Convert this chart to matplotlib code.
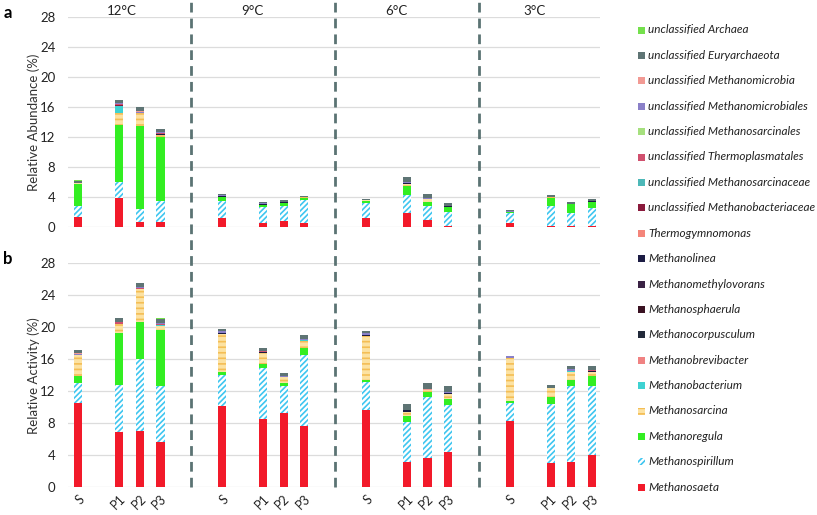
import matplotlib.pyplot as plt
from matplotlib.lines import Line2D
from matplotlib.patches import Rectangle
from matplotlib import transforms

plt.rcParams['font.family'] = ['Lato', 'DejaVu Sans']
plt.rcParams['hatch.linewidth'] = 1.2

temps = ["12°C", "9°C", "6°C", "3°C"]
samples = ["S", "P1", "P2", "P3"]

# legend order (top of stack first)
taxa = ["unclassified Archaea", "unclassified Euryarchaeota", "unclassified Methanomicrobia",
        "unclassified Methanomicrobiales", "unclassified Methanosarcinales",
        "unclassified Thermoplasmatales", "unclassified Methanosarcinaceae",
        "unclassified Methanobacteriaceae", "Thermogymnomonas", "Methanolinea",
        "Methanomethylovorans", "Methanosphaerula", "Methanocorpusculum",
        "Methanobrevibacter", "Methanobacterium", "Methanosarcina", "Methanoregula",
        "Methanospirillum", "Methanosaeta"]

# panel a: relative abundance (%), bars in order 12S,P1,P2,P3, 9S.., 6S.., 3S..
saeta_a = [1.4, 3.9, 0.75, 0.75, 1.3, 0.6, 0.8, 0.6, 1.2, 1.95, 1.0, 0.2, 0.6, 0.2, 0.2, 0.2]
spirillum_a = [1.5, 2.2, 1.7, 2.7, 2.2, 2.05, 2.1, 3.0, 2.1, 2.35, 1.8, 1.85, 1.25, 2.6, 1.75, 2.4]
regula_a = [2.85, 7.55, 11.1, 8.6, 0.5, 0.27, 0.32, 0.36, 0.27, 1.25, 0.57, 0.6, 0.2, 1.15, 1.1, 0.75]
sarcina_a = [0.15, 1.6, 1.65, 0.3, 0.05, 0.05, 0.05, 0.05, 0.05, 0.25, 0.35, 0.05, 0.05, 0.05, 0.05, 0.05]
bacterium_a = [0, 0.9, 0, 0, 0, 0, 0, 0, 0, 0, 0, 0, 0, 0, 0, 0]
linea_a = [0, 0, 0, 0.1, 0.1, 0.15, 0.12, 0, 0, 0.15, 0, 0.15, 0, 0, 0, 0.1]
bacteriaceae_a = [0, 0.1, 0, 0, 0, 0, 0, 0, 0, 0, 0, 0, 0, 0, 0, 0]
thermoplasm_a = [0, 0.15, 0, 0.15, 0, 0, 0, 0, 0, 0, 0.1, 0, 0, 0, 0, 0]
microbiales_a = [0, 0.2, 0.15, 0.1, 0.15, 0.08, 0, 0, 0, 0.1, 0.15, 0, 0.1, 0, 0, 0]
microbia_a = [0, 0, 0.1, 0, 0, 0, 0, 0, 0, 0, 0, 0, 0, 0, 0, 0]
eury_a = [0.3, 0.4, 0.55, 0.4, 0.2, 0.15, 0.21, 0.14, 0.18, 0.65, 0.53, 0.45, 0.15, 0.35, 0.3, 0.25]
archaea_a = [0.05, 0, 0, 0, 0, 0, 0, 0, 0, 0, 0, 0, 0, 0, 0, 0]

# panel b: relative activity (%)
saeta_b = [10.55, 6.9, 7.0, 5.7, 10.1, 8.5, 9.3, 7.7, 9.65, 3.2, 3.6, 4.35, 8.25, 3.0, 3.2, 4.05]
spirillum_b = [2.45, 5.9, 9.05, 6.9, 3.95, 6.45, 3.35, 8.8, 3.5, 4.9, 7.7, 5.9, 2.3, 7.4, 9.5, 8.65]
regula_b = [0.85, 6.45, 4.65, 7.0, 0.3, 0.5, 0.42, 0.9, 0.2, 0.85, 0.6, 0.75, 0.25, 0.85, 0.65, 1.2]
sarcina_b = [2.7, 1.1, 4.05, 0.6, 4.85, 1.35, 0.7, 0.85, 5.6, 0.5, 0.2, 0.6, 5.3, 1.1, 1.05, 0.5]
bacterium_b = [0, 0, 0, 0.1, 0, 0, 0, 0.1, 0, 0, 0, 0, 0, 0, 0.15, 0]
brevibacter_b = [0, 0.1, 0, 0, 0, 0, 0, 0, 0, 0, 0, 0, 0, 0, 0, 0]
linea_b = [0, 0, 0, 0, 0.1, 0.1, 0, 0, 0.1, 0.15, 0, 0.15, 0.1, 0, 0, 0.1]
thermoplasm_b = [0, 0.15, 0.1, 0.15, 0, 0.15, 0, 0, 0, 0, 0, 0, 0, 0.1, 0, 0.15]
microbiales_b = [0.15, 0.1, 0.15, 0.1, 0.2, 0, 0.2, 0.2, 0.25, 0, 0, 0.1, 0.25, 0, 0.2, 0]
microbia_b = [0.1, 0, 0, 0, 0, 0, 0, 0, 0, 0, 0.15, 0, 0, 0, 0, 0]
eury_b = [0.35, 0.45, 0.5, 0.45, 0.3, 0.35, 0.36, 0.52, 0.25, 0.8, 0.75, 0.8, 0, 0.35, 0.35, 0.45]
archaea_b = [0, 0, 0, 0.15, 0, 0, 0, 0, 0, 0, 0, 0, 0, 0, 0, 0]

colors = {
    "unclassified Archaea": "#74E04C", "unclassified Euryarchaeota": "#5E7474",
    "unclassified Methanomicrobia": "#F29A94", "unclassified Methanomicrobiales": "#8A80C8",
    "unclassified Methanosarcinales": "#A6E07E", "unclassified Thermoplasmatales": "#D0506E",
    "unclassified Methanosarcinaceae": "#4DB8B8", "unclassified Methanobacteriaceae": "#8A1A3C",
    "Thermogymnomonas": "#F4857A", "Methanolinea": "#1C1C44", "Methanomethylovorans": "#3A2244",
    "Methanosphaerula": "#3A1222", "Methanocorpusculum": "#222A3A", "Methanobrevibacter": "#F08282",
    "Methanobacterium": "#3ED2D2", "Methanosarcina": "#FCE2A2", "Methanoregula": "#33EE22",
    "Methanospirillum": "white", "Methanosaeta": "#F21A2A",
}
hatches = {"Methanospirillum": ("//////", "#3FC6F0"), "Methanosarcina": ("---", "#F4BE55")}

pos = [g * 7 + s for g in range(4) for s in (0, 2, 3, 4)]

stack_a = [("Methanosaeta", saeta_a), ("Methanospirillum", spirillum_a), ("Methanoregula", regula_a),
           ("Methanosarcina", sarcina_a), ("Methanobacterium", bacterium_a),
           ("Methanolinea", linea_a), ("unclassified Methanobacteriaceae", bacteriaceae_a),
           ("unclassified Thermoplasmatales", thermoplasm_a),
           ("unclassified Methanomicrobiales", microbiales_a),
           ("unclassified Methanomicrobia", microbia_a),
           ("unclassified Euryarchaeota", eury_a), ("unclassified Archaea", archaea_a)]
stack_b = [("Methanosaeta", saeta_b), ("Methanospirillum", spirillum_b), ("Methanoregula", regula_b),
           ("Methanosarcina", sarcina_b), ("Methanobacterium", bacterium_b),
           ("Methanobrevibacter", brevibacter_b), ("Methanolinea", linea_b),
           ("unclassified Thermoplasmatales", thermoplasm_b),
           ("unclassified Methanomicrobiales", microbiales_b),
           ("unclassified Methanomicrobia", microbia_b),
           ("unclassified Euryarchaeota", eury_b), ("unclassified Archaea", archaea_b)]

fig = plt.figure(figsize=(8.17, 5.15), dpi=100)
ax_a = fig.add_axes([0.0832, 0.5586, 0.6512, 0.4078])
ax_b = fig.add_axes([0.0832, 0.0538, 0.6512, 0.435])


def draw(ax, stack, ylabel):
    bottom = [0.0] * len(pos)
    for name, vals in stack:
        if name in hatches:
            h, ec = hatches[name]
            ax.bar(pos, vals, width=0.4, bottom=bottom, color=colors[name],
                   hatch=h, edgecolor=ec, linewidth=0, zorder=3)
        else:
            ax.bar(pos, vals, width=0.4, bottom=bottom, color=colors[name],
                   linewidth=0, zorder=3)
        bottom = [b + v for b, v in zip(bottom, vals)]
    ax.set_xlim(-0.5, 25.4)
    ax.set_ylim(0, 28)
    ax.set_yticks(range(0, 29, 4))
    ax.yaxis.grid(True, color="#DCDCDC", lw=0.9, zorder=0)
    for s in ax.spines.values():
        s.set_visible(False)
    ax.tick_params(length=0, labelsize=9.5, colors="#222222", pad=9)
    ax.set_ylabel(ylabel, fontsize=9.5, color="#333333", labelpad=0)


draw(ax_a, stack_a, "Relative Abundance (%)")
draw(ax_b, stack_b, "Relative Activity (%)")
ax_a.set_xticks([])
ax_b.set_xticks(pos)
ax_b.set_xticklabels(samples * 4, rotation=45, ha="right", rotation_mode="anchor",
                     fontsize=9)
ax_b.tick_params(axis="x", pad=4)

tt = transforms.blended_transform_factory(ax_a.transData, fig.transFigure)
for t, x in zip(temps, [2.1, 8.5, 15.5, 22.2]):
    ax_a.text(x, 0.99, t, transform=tt, ha="center", va="top", fontsize=9.5, color="#222222")

fig.text(0.004, 0.975, "a", fontsize=12, fontweight="bold", va="center")
fig.text(0.004, 0.498, "b", fontsize=12, fontweight="bold", va="center")

# dashed separators through both panels
for x in [5.5, 12.5, 19.5]:
    fig.add_artist(Line2D([x, x], [0.0538, 1.0], transform=tt, color="#5B7373",
                          lw=2, ls=(0, (3.5, 2.2))))

# legend
y0 = 1 - 30 / 515
dy = 25.4 / 515
for i, name in enumerate(taxa):
    y = y0 - i * dy
    h, ec = hatches.get(name, (None, colors[name]))
    fig.add_artist(Rectangle((638 / 817, y - 3.5 / 515), 7 / 817, 7 / 515,
                             transform=fig.transFigure, facecolor=colors[name],
                             hatch=h, edgecolor=ec, linewidth=0))
    fig.text(648 / 817, y, name, fontsize=8.5, style="italic", va="center", color="#222222")

fig.savefig("out.png", dpi=100)
